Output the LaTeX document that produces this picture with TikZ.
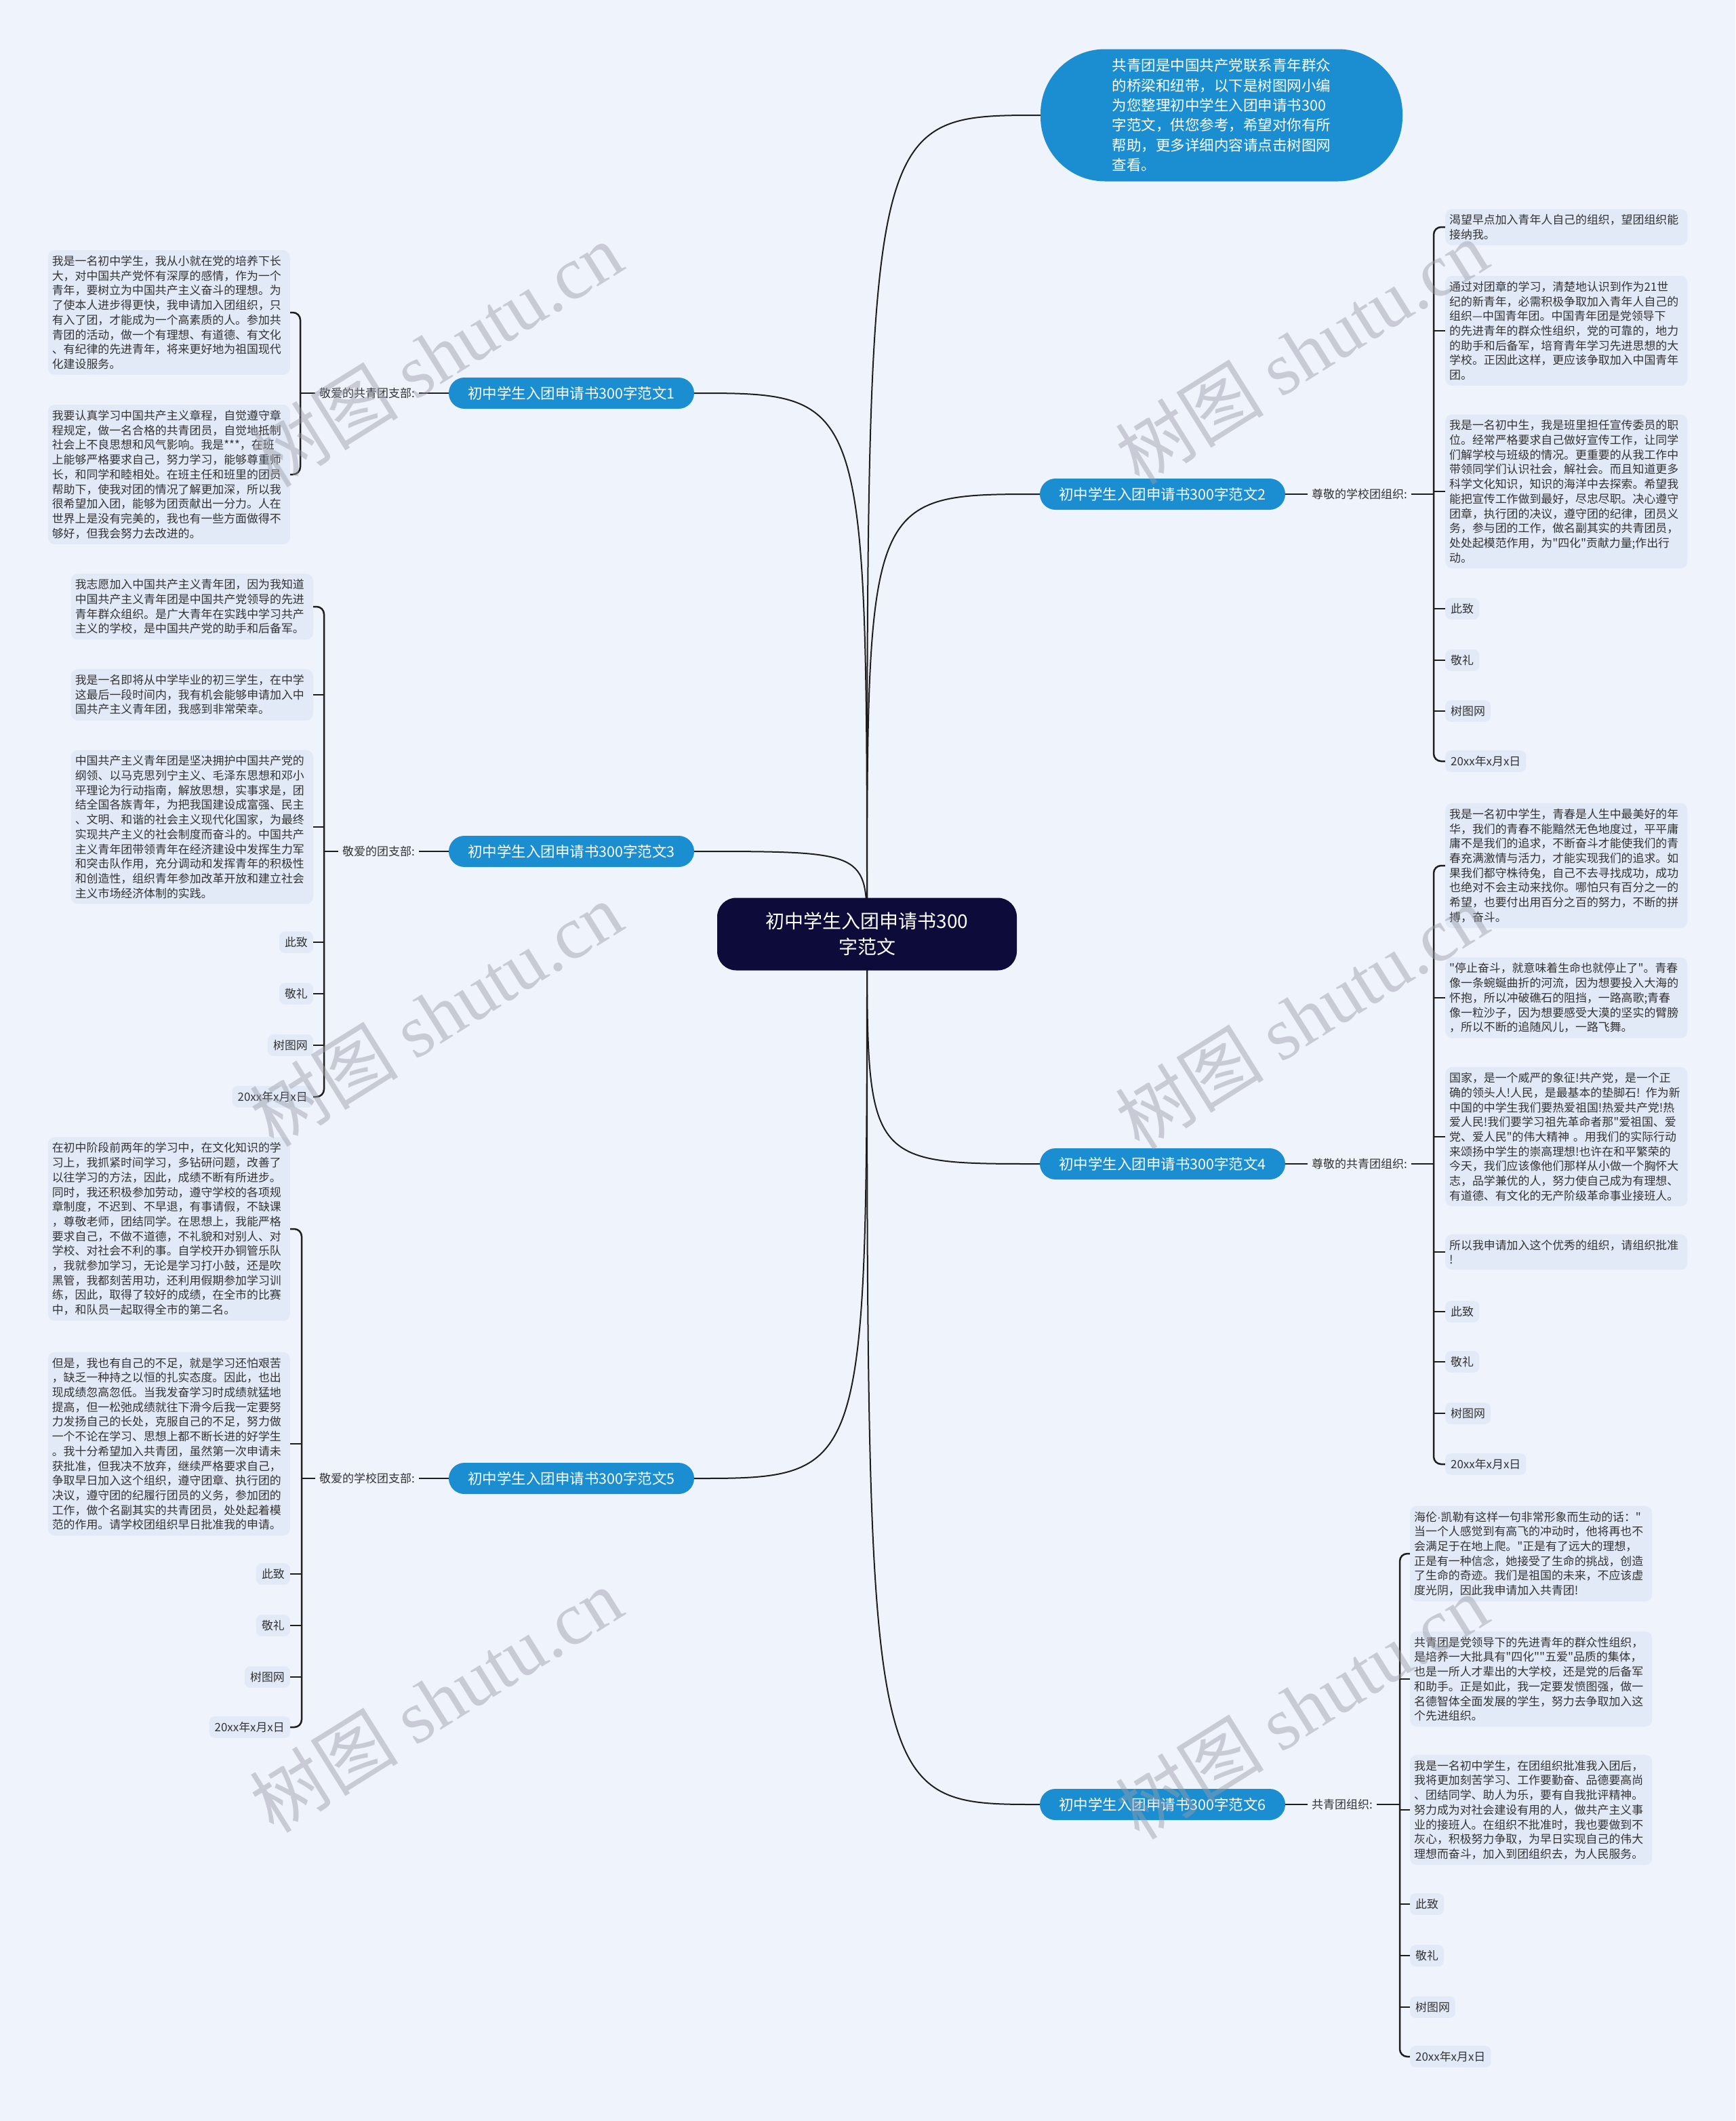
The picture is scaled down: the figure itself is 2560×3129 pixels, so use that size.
\documentclass[tikz,border=0pt]{standalone}
\usepackage{fontspec}
\newfontfamily\cjk{Noto Sans CJK SC}
\newfontfamily\latf{Liberation Sans}
\newfontfamily\wmlatin{Liberation Serif}
\usetikzlibrary{calc}
\definecolor{bgc}{HTML}{EEF3FC}
\definecolor{boxc}{HTML}{E2EAF8}
\definecolor{bluec}{HTML}{1B8ED1}
\definecolor{navyc}{HTML}{0C0B3A}
\definecolor{txtc}{HTML}{333333}
\definecolor{linec}{HTML}{1E1E1E}
\definecolor{wmc}{HTML}{9A9CA6}
\pgfdeclarelayer{bglayer}
\pgfdeclarelayer{edgelayer}
\pgfdeclarelayer{wmlayer}
\pgfsetlayers{bglayer,edgelayer,main,wmlayer}
\tikzset{
  para/.style={fill=boxc, rounded corners=10pt, text=txtc, text width=345pt, align=left, inner xsep=6pt, inner ysep=8pt, font=\cjk\fontsize{16.9pt}{21.7pt}\selectfont},
  leaf/.style={fill=boxc, rounded corners=8pt, text=txtc, inner xsep=8pt, inner ysep=8pt, font=\cjk\fontsize{16.9pt}{21.7pt}\selectfont},
  lbl/.style={text=txtc, inner xsep=6pt, inner ysep=2pt, font=\cjk\fontsize{17pt}{21pt}\selectfont},
  branch/.style={fill=bluec, text=white, rounded corners=23pt, minimum width=362pt, minimum height=46pt, inner sep=0pt, font=\cjk\fontsize{21.5pt}{26pt}\selectfont},
  conn/.style={draw=linec, line width=2pt},
  brk/.style={draw=linec, line width=2.5pt, rounded corners=11pt},
  tick/.style={draw=linec, line width=2.5pt},
  wm/.style={text=wmc, opacity=0.45, rotate=32, inner sep=0pt, font=\cjk\fontsize{110pt}{120pt}\selectfont},
}
\begin{document}
\begin{tikzpicture}[x=1pt,y=-1pt]
\useasboundingbox (0,0) rectangle (2560,3129);
\begin{pgfonlayer}{bglayer}
\fill[bgc] (0,0) rectangle (2560,3129);
\end{pgfonlayer}

% center
\node[fill=navyc, text=white, rounded corners=28pt, minimum width=442pt, minimum height=107pt, align=center, font=\cjk\fontsize{28pt}{38pt}\selectfont] (c) at (1279,1378) {初中学生入团申请书300\\字范文};

% top bubble
\node[fill=bluec, text=white, rounded corners=95pt, minimum width=534pt, minimum height=195pt, align=left, font=\cjk\fontsize{21.5pt}{29.3pt}\selectfont] (top) at (1802,170) {共青团是中国共产党联系青年群众\\的桥梁和纽带，以下是树图网小编\\为您整理初中学生入团申请书300\\字范文，供您参考，希望对你有所\\帮助，更多详细内容请点击树图网\\查看。};

% branches
\node[branch] (b1) at (843,580) {初中学生入团申请书300字范文1};
\node[branch] (b3) at (843,1256) {初中学生入团申请书300字范文3};
\node[branch] (b5) at (843,2181) {初中学生入团申请书300字范文5};
\node[branch] (b2) at (1715,729) {初中学生入团申请书300字范文2};
\node[branch] (b4) at (1715,1717) {初中学生入团申请书300字范文4};
\node[branch] (b6) at (1715,2662) {初中学生入团申请书300字范文6};

% labels
\node[lbl, anchor=east] (l1) at (618,580) {敬爱的共青团支部:};
\node[lbl, anchor=east] (l3) at (618,1256) {敬爱的团支部:};
\node[lbl, anchor=east] (l5) at (618,2181) {敬爱的学校团支部:};
\node[lbl, anchor=west] (l2) at (1929,729) {尊敬的学校团组织:};
\node[lbl, anchor=west] (l4) at (1929,1717) {尊敬的共青团组织:};
\node[lbl, anchor=west] (l6) at (1929,2662) {共青团组织:};

\coordinate (k1) at (443,580);
\coordinate (k3) at (478,1256);
\coordinate (k5) at (445,2181);
\coordinate (k2) at (2115,729);
\coordinate (k4) at (2115,1717);
\coordinate (k6) at (2065,2662);

% group 1
\node[para, anchor=east] (g1a) at (428,461) {我是一名初中学生，我从小就在党的培养下长\\大，对中国共产党怀有深厚的感情，作为一个\\青年，要树立为中国共产主义奋斗的理想。为\\了使本人进步得更快，我申请加入团组织，只\\有入了团，才能成为一个高素质的人。参加共\\青团的活动，做一个有理想、有道德、有文化\\、有纪律的先进青年，将来更好地为祖国现代\\化建设服务。};
\node[para, anchor=east] (g1b) at (428,700) {我要认真学习中国共产主义章程，自觉遵守章\\程规定，做一名合格的共青团员，自觉地抵制\\社会上不良思想和风气影响。我是***，在班\\上能够严格要求自己，努力学习，能够尊重师\\长，和同学和睦相处。在班主任和班里的团员\\帮助下，使我对团的情况了解更加深，所以我\\很希望加入团，能够为团贡献出一分力。人在\\世界上是没有完美的，我也有一些方面做得不\\够好，但我会努力去改进的。};

% group 3
\node[para, anchor=east] (g3a) at (462,895) {我志愿加入中国共产主义青年团，因为我知道\\中国共产主义青年团是中国共产党领导的先进\\青年群众组织。是广大青年在实践中学习共产\\主义的学校，是中国共产党的助手和后备军。};
\node[para, anchor=east] (g3b) at (462,1025) {我是一名即将从中学毕业的初三学生，在中学\\这最后一段时间内，我有机会能够申请加入中\\国共产主义青年团，我感到非常荣幸。};
\node[para, anchor=east] (g3c) at (462,1220) {中国共产主义青年团是坚决拥护中国共产党的\\纲领、以马克思列宁主义、毛泽东思想和邓小\\平理论为行动指南，解放思想，实事求是，团\\结全国各族青年，为把我国建设成富强、民主\\、文明、和谐的社会主义现代化国家，为最终\\实现共产主义的社会制度而奋斗的。中国共产\\主义青年团带领青年在经济建设中发挥生力军\\和突击队作用，充分调动和发挥青年的积极性\\和创造性，组织青年参加改革开放和建立社会\\主义市场经济体制的实践。};
\node[leaf, anchor=east] (g3d) at (462,1390) {此致};
\node[leaf, anchor=east] (g3e) at (462,1466) {敬礼};
\node[leaf, anchor=east] (g3f) at (462,1542) {树图网};
\node[leaf, anchor=east] (g3g) at (462,1618) {20xx年x月x日};

% group 5
\node[para, anchor=east] (g5a) at (428,1813) {在初中阶段前两年的学习中，在文化知识的学\\习上，我抓紧时间学习，多钻研问题，改善了\\以往学习的方法，因此，成绩不断有所进步。\\同时，我还积极参加劳动，遵守学校的各项规\\章制度，不迟到、不早退，有事请假，不缺课\\，尊敬老师，团结同学。在思想上，我能严格\\要求自己，不做不道德，不礼貌和对别人、对\\学校、对社会不利的事。自学校开办铜管乐队\\，我就参加学习，无论是学习打小鼓，还是吹\\黑管，我都刻苦用功，还利用假期参加学习训\\练，因此，取得了较好的成绩，在全市的比赛\\中，和队员一起取得全市的第二名。};
\node[para, anchor=east] (g5b) at (428,2130) {但是，我也有自己的不足，就是学习还怕艰苦\\，缺乏一种持之以恒的扎实态度。因此，也出\\现成绩忽高忽低。当我发奋学习时成绩就猛地\\提高，但一松弛成绩就往下滑今后我一定要努\\力发扬自己的长处，克服自己的不足，努力做\\一个不论在学习、思想上都不断长进的好学生\\。我十分希望加入共青团，虽然第一次申请未\\获批准，但我决不放弃，继续严格要求自己，\\争取早日加入这个组织，遵守团章、执行团的\\决议，遵守团的纪履行团员的义务，参加团的\\工作，做个名副其实的共青团员，处处起着模\\范的作用。请学校团组织早日批准我的申请。};
\node[leaf, anchor=east] (g5c) at (428,2322) {此致};
\node[leaf, anchor=east] (g5d) at (428,2398) {敬礼};
\node[leaf, anchor=east] (g5e) at (428,2474) {树图网};
\node[leaf, anchor=east] (g5f) at (428,2548) {20xx年x月x日};

% group 2
\node[para, anchor=west] (g2a) at (2132,335) {渴望早点加入青年人自己的组织，望团组织能\\接纳我。};
\node[para, anchor=west] (g2b) at (2132,488) {通过对团章的学习，清楚地认识到作为21世\\纪的新青年，必需积极争取加入青年人自己的\\组织—中国青年团。中国青年团是党领导下\\的先进青年的群众性组织，党的可靠的，地力\\的助手和后备军，培育青年学习先进思想的大\\学校。正因此这样，更应该争取加入中国青年\\团。};
\node[para, anchor=west] (g2c) at (2132,725) {我是一名初中生，我是班里担任宣传委员的职\\位。经常严格要求自己做好宣传工作，让同学\\们解学校与班级的情况。更重要的从我工作中\\带领同学们认识社会，解社会。而且知道更多\\科学文化知识，知识的海洋中去探索。希望我\\能把宣传工作做到最好，尽忠尽职。决心遵守\\团章，执行团的决议，遵守团的纪律，团员义\\务，参与团的工作，做名副其实的共青团员，\\处处起模范作用，为"四化"贡献力量;作出行\\动。};
\node[leaf, anchor=west] (g2d) at (2132,898) {此致};
\node[leaf, anchor=west] (g2e) at (2132,974) {敬礼};
\node[leaf, anchor=west] (g2f) at (2132,1049) {树图网};
\node[leaf, anchor=west] (g2g) at (2132,1123) {20xx年x月x日};

% group 4
\node[para, anchor=west] (g4a) at (2132,1277) {我是一名初中学生，青春是人生中最美好的年\\华，我们的青春不能黯然无色地度过，平平庸\\庸不是我们的追求，不断奋斗才能使我们的青\\春充满激情与活力，才能实现我们的追求。如\\果我们都守株待兔，自己不去寻找成功，成功\\也绝对不会主动来找你。哪怕只有百分之一的\\希望，也要付出用百分之百的努力，不断的拼\\搏，奋斗。};
\node[para, anchor=west] (g4b) at (2132,1472) {"停止奋斗，就意味着生命也就停止了"。青春\\像一条蜿蜒曲折的河流，因为想要投入大海的\\怀抱，所以冲破礁石的阻挡，一路高歌;青春\\像一粒沙子，因为想要感受大漠的坚实的臂膀\\，所以不断的追随风儿，一路飞舞。};
\node[para, anchor=west] (g4c) at (2132,1677) {国家，是一个威严的象征!共产党，是一个正\\确的领头人!人民，是最基本的垫脚石! 作为新\\中国的中学生我们要热爱祖国!热爱共产党!热\\爱人民!我们要学习祖先革命者那"爱祖国、爱\\党、爱人民"的伟大精神 。用我们的实际行动\\来颂扬中学生的崇高理想!也许在和平繁荣的\\今天，我们应该像他们那样从小做一个胸怀大\\志，品学兼优的人，努力使自己成为有理想、\\有道德、有文化的无产阶级革命事业接班人。};
\node[para, anchor=west] (g4d) at (2132,1847) {所以我申请加入这个优秀的组织，请组织批准\\!};
\node[leaf, anchor=west] (g4e) at (2132,1935) {此致};
\node[leaf, anchor=west] (g4f) at (2132,2009) {敬礼};
\node[leaf, anchor=west] (g4g) at (2132,2085) {树图网};
\node[leaf, anchor=west] (g4h) at (2132,2160) {20xx年x月x日};

% group 6
\node[para, anchor=west] (g6a) at (2080,2292) {海伦{\latf ·}凯勒有这样一句非常形象而生动的话："\\当一个人感觉到有高飞的冲动时，他将再也不\\会满足于在地上爬。"正是有了远大的理想，\\正是有一种信念，她接受了生命的挑战，创造\\了生命的奇迹。我们是祖国的未来，不应该虚\\度光阴，因此我申请加入共青团!};
\node[para, anchor=west] (g6b) at (2080,2477) {共青团是党领导下的先进青年的群众性组织，\\是培养一大批具有"四化""五爱"品质的集体，\\也是一所人才辈出的大学校，还是党的后备军\\和助手。正是如此，我一定要发愤图强，做一\\名德智体全面发展的学生，努力去争取加入这\\个先进组织。};
\node[para, anchor=west] (g6c) at (2080,2670) {我是一名初中学生，在团组织批准我入团后，\\我将更加刻苦学习、工作要勤奋、品德要高尚\\、团结同学、助人为乐，要有自我批评精神。\\努力成为对社会建设有用的人，做共产主义事\\业的接班人。在组织不批准时，我也要做到不\\灰心，积极努力争取，为早日实现自己的伟大\\理想而奋斗，加入到团组织去，为人民服务。};
\node[leaf, anchor=west] (g6d) at (2080,2809) {此致};
\node[leaf, anchor=west] (g6e) at (2080,2885) {敬礼};
\node[leaf, anchor=west] (g6f) at (2080,2961) {树图网};
\node[leaf, anchor=west] (g6g) at (2080,3034) {20xx年x月x日};

\begin{pgfonlayer}{edgelayer}
% main curves
\draw[conn] (c.center) .. controls (c.center |- top.west) .. (top.west);
\draw[conn] (c.center) .. controls (c.center |- b1.east) .. (b1.east);
\draw[conn] (c.center) .. controls (c.center |- b3.east) .. (b3.east);
\draw[conn] (c.center) .. controls (c.center |- b5.east) .. (b5.east);
\draw[conn] (c.center) .. controls (c.center |- b2.west) .. (b2.west);
\draw[conn] (c.center) .. controls (c.center |- b4.west) .. (b4.west);
\draw[conn] (c.center) .. controls (c.center |- b6.west) .. (b6.west);
% branch to label to bracket
\draw[conn] (b1.west) -- (l1.east); \draw[tick] (l1.west) -- (k1);
\draw[conn] (b3.west) -- (l3.east); \draw[tick] (l3.west) -- (k3);
\draw[conn] (b5.west) -- (l5.east); \draw[tick] (l5.west) -- (k5);
\draw[conn] (b2.east) -- (l2.west); \draw[tick] (l2.east) -- (k2);
\draw[conn] (b4.east) -- (l4.west); \draw[tick] (l4.east) -- (k4);
\draw[conn] (b6.east) -- (l6.west); \draw[tick] (l6.east) -- (k6);
% brackets
\draw[brk] (g1a.east) -| (k1) |- (g1b.east);
\draw[brk] (g3a.east) -| (k3) |- (g3g.east);
\foreach \n in {g3b,g3c,g3d,g3e,g3f} \draw[tick] (\n.east) -- (\n.east -| k3);
\draw[brk] (g5a.east) -| (k5) |- (g5f.east);
\foreach \n in {g5b,g5c,g5d,g5e} \draw[tick] (\n.east) -- (\n.east -| k5);
\draw[brk] (g2a.west) -| (k2) |- (g2g.west);
\foreach \n in {g2b,g2c,g2d,g2e,g2f} \draw[tick] (\n.west) -- (\n.west -| k2);
\draw[brk] (g4a.west) -| (k4) |- (g4h.west);
\foreach \n in {g4b,g4c,g4d,g4e,g4f,g4g} \draw[tick] (\n.west) -- (\n.west -| k4);
\draw[brk] (g6a.west) -| (k6) |- (g6g.west);
\foreach \n in {g6b,g6c,g6d,g6e,g6f} \draw[tick] (\n.west) -- (\n.west -| k6);
\end{pgfonlayer}

\begin{pgfonlayer}{wmlayer}
\node[wm] (w1) at (643,523) {树图 {\wmlatin shutu.cn}};
\node[wm] (w2) at (643,1496) {树图 {\wmlatin shutu.cn}};
\node[wm] (w3) at (643,2508) {树图 {\wmlatin shutu.cn}};
\node[wm] (w4) at (1920,519) {树图 {\wmlatin shutu.cn}};
\node[wm] (w5) at (1920,1500) {树图 {\wmlatin shutu.cn}};
\node[wm] (w6) at (1920,2518) {树图 {\wmlatin shutu.cn}};
\end{pgfonlayer}
\end{tikzpicture}
\end{document}
